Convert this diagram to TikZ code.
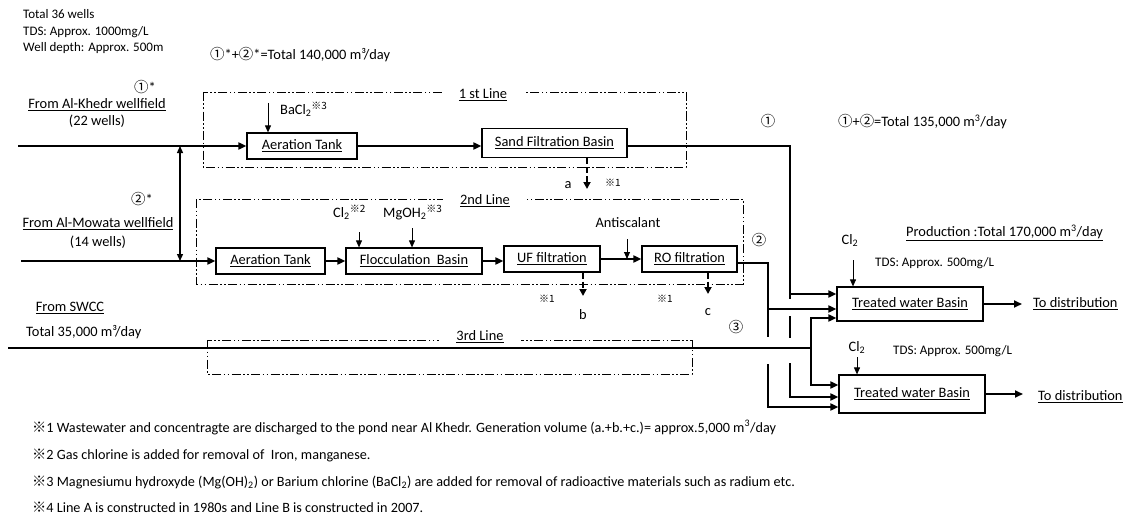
\documentclass[tikz,border=0pt]{standalone}
\usepackage{fontspec}
\setmainfont{Carlito}
\newfontfamily\cjk{Noto Sans CJK JP}
\usetikzlibrary{arrows.meta}
\newcommand{\fA}{\fontsize{14.4}{17}\selectfont}
\newcommand{\fB}{\fontsize{13}{16}\selectfont}
\newcommand{\fC}{\fontsize{14.2}{17}\selectfont}
\newcommand{\fD}{\fontsize{10}{12}\selectfont}
\newcommand{\kome}{{\cjk ※}}
\newcommand{\cjkc}[1]{{\cjk #1}}
\tikzset{
 box/.style={draw, line width=1.2pt, inner sep=0pt, font=\fA},
 flow/.style={line width=1.8pt},
 flowarr/.style={line width=1.8pt, -{Triangle[length=8pt,width=7pt]}},
 thinarr/.style={line width=0.9pt, -{Triangle[length=7pt,width=6pt]}},
 dblarr/.style={line width=1.3pt, {Triangle[length=7pt,width=6pt]}-{Triangle[length=7pt,width=6pt]}},
 dasharr/.style={line width=2.2pt, dash pattern=on 6pt off 3pt, -{Triangle[length=7pt,width=7pt]}},
 frame/.style={line width=0.9pt, dash pattern=on 9pt off 2.5pt on 1.5pt off 2.5pt on 1.5pt off 2.5pt},
 framelabel/.style={fill=white, inner xsep=17pt, inner ysep=1.5pt, font=\fA, anchor=base},
 lbl/.style={inner sep=0pt, font=\fA, anchor=base},
 lblw/.style={inner sep=0pt, font=\fA, anchor=base west},
 small/.style={inner sep=0pt, font=\fB, anchor=base west},
 note/.style={inner sep=0pt, font=\fC, anchor=base west},
 refmark/.style={inner sep=0pt, font=\fD, anchor=base},
}
\begin{document}
\begin{tikzpicture}[x=1pt,y=-1pt]
\useasboundingbox (0,0) rectangle (1128,519);

% ---- frames ----
\draw[frame] (203,92) rectangle (686,167);
\node[framelabel] (f1) at (483,98.6) {\underline{1 st Line}};
\draw[frame] (196,199) rectangle (743,284);
\node[framelabel] (f2) at (485,204.6) {\underline{2nd Line}};
\draw[frame] (207,340) rectangle (692,374);
\node[framelabel] (f3) at (480,340.6) {\underline{3rd Line}};

% ---- top-left texts ----
\node[small] (t1) at (23,19) {Total 36 wells};
\node[small] (t2) at (23,36) {TDS: Approx. 1000mg/L};
\node[small] (t3) at (23,52) {Well depth: Approx. 500m};
\node[lblw] (sum1) at (210,59.5) {\cjkc{①}*+\cjkc{②}*=Total 140,000 m³/day};

\node[lbl] (c1s) at (145,92.5) {\cjkc{①}*};
\node[lbl] (src1) at (97,108.6) {\underline{From Al-Khedr wellfield}};
\node[lbl] (src1b) at (97,125.6) {(22 wells)};
\node[lbl] (c2s) at (142,204.6) {\cjkc{②}*};
\node[lbl] (src2) at (98,227.6) {\underline{From Al-Mowata wellfield}};
\node[lbl] (src2b) at (98,246.6) {(14 wells)};
\node[lbl] (src3) at (70,311.6) {\underline{From SWCC}};
\node[lblw] (src3b) at (26,336.6) {Total 35,000 m³/day};

% ---- boxes ----
\node[box, minimum width=110pt, minimum height=26pt] (aer1) at (302,146) {\underline{Aeration Tank}};
\node[box, minimum width=145pt, minimum height=29pt] (sand) at (554.5,143) {\underline{Sand Filtration Basin}};
\node[box, minimum width=109pt, minimum height=26pt] (aer2) at (270.5,261) {\underline{Aeration Tank}};
\node[box, minimum width=136pt, minimum height=26pt] (floc) at (414,261) {\underline{Flocculation\ \ Basin}};
\node[box, minimum width=96pt, minimum height=26pt] (uf) at (552,259) {\underline{UF filtration}};
\node[box, minimum width=95pt, minimum height=26pt] (ro) at (689.5,259) {\underline{RO filtration}};
\node[box, minimum width=146pt, minimum height=34pt] (tw1) at (910,304) {\underline{Treated water Basin}};
\node[box, minimum width=146pt, minimum height=38pt] (tw2) at (912,394) {\underline{Treated water Basin}};

% ---- chemical labels ----
\node[lblw] (bacl) at (280,114.6) {BaCl\textsubscript{2}\textsuperscript{\cjk ※3}};
\node[lblw] (cl2a) at (333,217.6) {Cl\textsubscript{2}\textsuperscript{\cjk ※2}};
\node[lblw] (mgoh) at (383,217.6) {MgOH\textsubscript{2}\textsuperscript{\cjk ※3}};
\node[lbl] (anti) at (628,227.6) {Antiscalant};
\node[lbl] (cl2b) at (850,244) {Cl\textsubscript{2}};
\node[small] (tds1) at (875,266) {TDS: Approx. 500mg/L};
\node[lbl] (cl2c) at (857,351) {Cl\textsubscript{2}};
\node[small] (tds2) at (893,354) {TDS: Approx. 500mg/L};

% ---- right texts ----
\node[lbl] (n1) at (768,126.6) {\cjkc{①}};
\node[lblw] (sum2) at (838,126.6) {\cjkc{①}+\cjkc{②}=Total 135,000 m\textsuperscript{3}/day};
\node[lblw] (prod) at (906,236.6) {\underline{Production :Total 170,000 m\textsuperscript{3}/day}};
\node[lbl] (n2) at (759,245.6) {\cjkc{②}};
\node[lbl] (n3) at (736,332.6) {\cjkc{③}};
\node[lblw] (d1) at (1033,307.6) {\underline{To distribution}};
\node[lblw] (d2) at (1038,400.6) {\underline{To distribution}};

% ---- waste labels ----
\node[lbl] (la) at (568,188.6) {a};
\node[refmark] (ma) at (613,186) {\cjk ※1};
\node[lbl] (lb) at (583,319.6) {b};
\node[refmark] (mb) at (547,302) {\cjk ※1};
\node[lbl] (lc) at (708,315.6) {c};
\node[refmark] (mc) at (665,302) {\cjk ※1};

% ---- coordinates ----
\coordinate (in1) at (18,146);
\coordinate (in2) at (21,261);
\coordinate (in3) at (8,348);
\coordinate (k1) at (180,146);
\coordinate (k2) at (180,261);
\coordinate (j1) at (790,146);
\coordinate (j1a) at (790,299);
\coordinate (j1b) at (790,316);
\coordinate (j1c) at (790,338);
\coordinate (j1d) at (790,363);
\coordinate (j1e) at (790,397);
\coordinate (t1a) at (790,294);
\coordinate (j2) at (768,263);
\coordinate (j2a) at (768,337);
\coordinate (j2b) at (768,364);
\coordinate (j2c) at (768,407);
\coordinate (t2a) at (768,309);
\coordinate (j3) at (811,348);
\coordinate (j3a) at (811,318);
\coordinate (j3b) at (811,385);
\coordinate (ta) at (587,189);
\coordinate (tb) at (583,296);
\coordinate (tc) at (708,294);
\coordinate (bas) at (268,103);
\coordinate (cls) at (359,232);
\coordinate (mgs) at (412,228);
\coordinate (ans) at (627,239);
\coordinate (c1a) at (853,260);
\coordinate (c2a) at (857,357);
\coordinate (o1) at (1022,304);
\coordinate (o2) at (1023,394);

% ---- flows ----
\draw[flowarr] (in1) -- (aer1.west);
\draw[flowarr] (aer1.east) -- (sand.west |- aer1.east);
\draw[flowarr] (in2) -- (aer2.west);
\draw[flowarr] (aer2.east) -- (floc.west);
\draw[flowarr] (floc.east) -- (uf.west |- floc.east);
\draw[flowarr] (uf.east) -- (ro.west);
\draw[dblarr] (k2) -- (k1);

% line 1 to basins
\draw[flow] (sand.east |- j1) -- (j1) -- (j1a);
\draw[flowarr] (t1a) -- (tw1.west |- t1a);
\draw[flow] (j1b) -- (j1c);
\draw[flowarr] (j1d) -- (j1e) -- (tw2.west |- j1e);
% line 2 to basins
\draw[flow] (ro.east |- j2) -- (j2) -- (j2a);
\draw[flowarr] (t2a) -- (tw1.west |- t2a);
\draw[flowarr] (j2b) -- (j2c) -- (tw2.west |- j2c);
% line 3 to basins
\draw[flow] (in3) -- (j3);
\draw[flowarr] (j3) -- (j3a) -- (tw1.west |- j3a);
\draw[flowarr] (j3) -- (j3b) -- (tw2.west |- j3b);
% outputs
\draw[flowarr] (tw1.east) -- (o1);
\draw[flowarr] (tw2.east) -- (o2);

% chemicals
\draw[thinarr] (bas) -- (bas |- aer1.north);
\draw[thinarr] (cls) -- (cls |- floc.north);
\draw[thinarr] (mgs) -- (mgs |- floc.north);
\draw[thinarr] (ans) -- (ans |- ro.west);
\draw[thinarr] (c1a) -- (c1a |- tw1.north);
\draw[thinarr] (c2a) -- (c2a |- tw2.north);

% waste
\draw[dasharr] (sand.south -| ta) -- (ta);
\draw[dasharr] (uf.south -| tb) -- (tb);
\draw[dasharr] (ro.south -| tc) -- (tc);

% ---- footnotes ----
\node[note] (fn1) at (32,432) {\kome1 Wastewater and concentragte are discharged to the pond near Al Khedr. Generation volume (a.+b.+c.)= approx.5,000 m\textsuperscript{3}/day};
\node[note] (fn2) at (32,459) {\kome2 Gas chlorine is added for removal of\ \ Iron, manganese.};
\node[note] (fn3) at (32,486.5) {\kome3 Magnesiumu hydroxyde (Mg(OH)\textsubscript{2}) or Barium chlorine (BaCl\textsubscript{2}) are added for removal of radioactive materials such as radium etc.};
\node[note] (fn4) at (32,512.5) {\kome4 Line A is constructed in 1980s and Line B is constructed in 2007.};
\end{tikzpicture}
\end{document}
